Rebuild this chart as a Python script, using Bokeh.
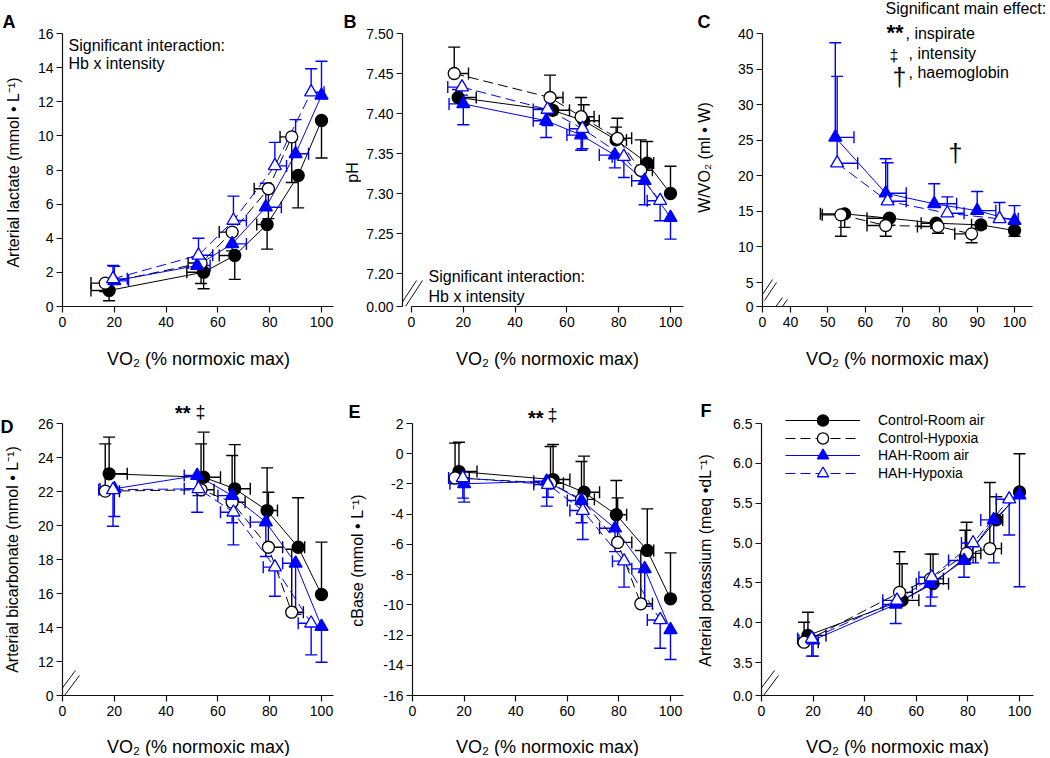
import math
from bokeh.plotting import figure
from bokeh.models import (ColumnDataSource, Whisker, TeeHead, Label, Arrow, FixedTicker,
                          CustomJSTickFormatter, Legend, LegendItem, Range1d)
from bokeh.layouts import row, column
from bokeh.embed import file_html
from bokeh.resources import INLINE

FONT = "Liberation Sans"
INK = "#000000"
BLUE = "#0000ff"
AXC = "#111111"

# ---------------- data ----------------
series_names = ["Control-Room air", "Control-Hypoxia", "HAH-Room air", "HAH-Hypoxia"]

# VO2 (% normoxic max) per group and its SD (same for every panel)
vo2_cr = [18, 54.5, 66.5, 79, 91, 100]
vo2_ch = [16.5, 53.5, 65.5, 79.5, 88.5]
vo2_hr = [20, 52, 65.5, 78.5, 90, 100]
vo2_hh = [19.5, 52.5, 66, 82, 96]
vo2sd_cr = [7, 6.5, 6, 4, 2.5, 0]
vo2sd_ch = [5.5, 5, 5, 5.5, 4.5]
vo2sd_hr = [5.5, 5, 5.5, 6, 5, 0]
vo2sd_hh = [5.5, 5.5, 5, 4.5, 5]

# A: arterial lactate
lac_cr = [0.94, 2.01, 2.99, 4.81, 7.68, 10.9]
lac_cr_sd = [0.6, 0.97, 1.4, 1.45, 1.9, 2.2]
lac_ch = [1.37, 2.55, 4.36, 6.9, 9.94]
lac_ch_sd = [0.5, 1.2, 1.1, 1.75, 2.67]
lac_hr = [1.5, 2.4, 3.67, 5.82, 8.95, 12.37]
lac_hr_sd = [0.85, 0.5, 0.7, 1.4, 2.0, 2.0]
lac_hh = [1.62, 3.0, 5.04, 8.24, 12.56]
lac_hh_sd = [0.78, 1.0, 1.43, 1.38, 1.37]

# B: pH
ph_cr = [7.42, 7.404, 7.391, 7.367, 7.338, 7.30]
ph_cr_sd = [0.01, 0.015, 0.02, 0.016, 0.027, 0.034]
ph_ch = [7.45, 7.42, 7.396, 7.369, 7.329]
ph_ch_sd = [0.033, 0.028, 0.024, 0.025, 0.038]
ph_hr = [7.412, 7.391, 7.373, 7.348, 7.316, 7.27]
ph_hr_sd = [0.026, 0.021, 0.019, 0.016, 0.03, 0.027]
ph_hh = [7.433, 7.405, 7.381, 7.346, 7.291]
ph_hh_sd = [0.01, 0.02, 0.025, 0.026, 0.025]

# C: W/VO2 (no rest point)
wv_cr = [14.65, 14.04, 13.33, 13.1, 12.3]
wv_cr_sd = [1.9, 1.0, 0.7, 0.5, 0.8]
wv_ch = [14.51, 13.01, 12.87, 11.84]
wv_ch_sd = [3.0, 1.5, 0.94, 1.26]
wv_hr = [25.4, 17.55, 16.06, 15.1, 13.7]
wv_hr_sd = [13.3, 4.85, 2.81, 2.7, 2.1]
wv_hh = [21.77, 16.43, 14.74, 13.95]
wv_hh_sd = [12.2, 5.4, 2.3, 2.3]

# D: arterial bicarbonate
bic_cr = [23.04, 22.84, 22.16, 20.88, 18.72, 15.94]
bic_cr_sd = [2.16, 2.65, 2.6, 2.51, 2.91, 3.08]
bic_ch = [22.02, 22.1, 21.37, 18.72, 14.9]
bic_ch_sd = [2.78, 2.7, 2.75, 3.24, 3.7]
bic_hr = [22.16, 22.94, 21.76, 20.2, 17.78, 14.06]
bic_hr_sd = [1.63, 2.16, 1.6, 2.02, 3.0, 2.1]
bic_hh = [22.1, 22.16, 20.78, 17.55, 14.25]
bic_hh_sd = [2.14, 0.4, 1.92, 1.71, 1.86]

# E: cBase
cb_cr = [-1.18, -1.71, -2.55, -4.04, -6.4, -9.6]
cb_cr_sd = [1.94, 2.32, 2.39, 2.27, 2.75, 3.04]
cb_ch = [-1.6, -1.95, -3.02, -5.87, -9.93]
cb_ch_sd = [2.3, 2.43, 2.51, 2.95, 3.53]
cb_hr = [-1.99, -1.82, -3.1, -4.93, -7.62, -11.66]
cb_hr_sd = [1.21, 1.65, 1.47, 1.55, 2.47, 1.96]
cb_hh = [-1.6, -2.04, -3.76, -7.11, -11.0]
cb_hh_sd = [1.34, 0.84, 1.92, 1.72, 1.87]

# F: arterial potassium
k_cr = [3.84, 4.28, 4.49, 4.82, 5.29, 5.64]
k_cr_sd = [0.29, 0.46, 0.37, 0.34, 0.29, 0.48]
k_ch = [3.755, 4.38, 4.55, 4.87, 4.93]
k_ch_sd = [0.25, 0.51, 0.31, 0.39, 0.83]
k_hr = [3.78, 4.23, 4.49, 4.78, 5.29, 5.6]
k_hr_sd = [0.2, 0.24, 0.28, 0.21, 0.54, 1.15]
k_hh = [3.8, 4.28, 4.57, 5.0, 5.55]
k_hh_sd = [0.22, 0.05, 0.25, 0.25, 0.45]

x_ticks = [0, 20, 40, 60, 80, 100]
x_label = "VO\u2082 (% normoxic max)"
y_labels = {
    "A": "Arterial lactate (mmol \u2022 L\u207b\u00b9)",
    "B": "pH",
    "C": "W/VO\u2082 (ml \u2022 W)",
    "D": "Arterial bicarbonate (mmol \u2022 L\u207b\u00b9)",
    "E": "cBase (mmol \u2022 L\u207b\u00b9)",
    "F": "Arterial potassium (meq \u2022dL\u207b\u00b9)",
}

# ---------------- layout (page pixels, page origin at the top-left corner) ----------------
BOX = {  # figure boxes: x0, x1, y0, y1
    "A": (26, 361, 0, 340), "B": (361, 722, 0, 340), "C": (722, 1048, 0, 340),
    "D": (26, 372, 340, 722), "E": (372, 722, 340, 722), "F": (722, 1048, 340, 722),
    "LEFT": (0, 26, 0, 756), "BOTTOM": (26, 1048, 722, 756),
}


def lin(cal, px):
    (v1, p1), (v2, p2) = cal
    return v1 + (px - p1) * (v2 - v1) / (p2 - p1)


STYLE = {
    "cr": dict(color=INK, marker="circle", fill=INK, dash="solid", size=12),
    "ch": dict(color=INK, marker="circle", fill="white", dash="10 5", size=12),
    "hr": dict(color=BLUE, marker="triangle", fill=BLUE, dash="solid", size=13),
    "hh": dict(color=BLUE, marker="triangle", fill="white", dash="10 5", size=13),
}
BLACK_DOWN = {"cr": (-1, -1), "ch": (-1, -1), "hr": (1, 1), "hh": (1, 1)}
BLACK_UP = {"cr": (1, 1), "ch": (1, 1), "hr": (-1, -1), "hh": (-1, -1)}

SPEC = {
    "A": dict(L=62, B=306, xs_px=62, xe_px=333,
              xcal=((0, 62), (100, 321)), ycal=((0, 306), (16, 33)), ytop=16,
              xticks=x_ticks, xbrk=None, yticks=list(range(0, 17, 2)), ybrk=None, ydec=0,
              dirs=BLACK_DOWN,
              data={"cr": (vo2_cr, vo2sd_cr, lac_cr, lac_cr_sd), "ch": (vo2_ch, vo2sd_ch, lac_ch, lac_ch_sd),
                    "hr": (vo2_hr, vo2sd_hr, lac_hr, lac_hr_sd), "hh": (vo2_hh, vo2sd_hh, lac_hh, lac_hh_sd)},
              breaks=[]),
    "B": dict(L=402, B=306, xs_px=411, xe_px=683,
              xcal=((0, 411), (100, 670)), ycal=((7.20, 273), (7.50, 33)), ytop=7.5,
              xticks=x_ticks, xbrk=None, yticks="brk", ybrk="0.00", ydec=2,
              yreg=[7.20, 7.25, 7.30, 7.35, 7.40, 7.45, 7.50],
              dirs=BLACK_UP,
              data={"cr": (vo2_cr, vo2sd_cr, ph_cr, ph_cr_sd), "ch": (vo2_ch, vo2sd_ch, ph_ch, ph_ch_sd),
                    "hr": (vo2_hr, vo2sd_hr, ph_hr, ph_hr_sd), "hh": (vo2_hh, vo2sd_hh, ph_hh, ph_hh_sd)},
              breaks=[(399, 306, 416, 280), (405, 306, 422, 280)]),
    "C": dict(L=762, B=306, xs_px=762, xe_px=1032,
              xcal=((40, 790), (100, 1014)), ycal=((5, 282), (40, 33)), ytop=40,
              xticks="brk", xbrk="0", xreg=[40, 50, 60, 70, 80, 90, 100],
              yticks="brk", ybrk="0", ydec=0, yreg=[5, 10, 15, 20, 25, 30, 35, 40],
              dirs=BLACK_DOWN,
              data={"cr": (vo2_cr[1:], vo2sd_cr[1:], wv_cr, wv_cr_sd),
                    "ch": (vo2_ch[1:], vo2sd_ch[1:], wv_ch, wv_ch_sd),
                    "hr": (vo2_hr[1:], vo2sd_hr[1:], wv_hr, wv_hr_sd),
                    "hh": (vo2_hh[1:], vo2sd_hh[1:], wv_hh, wv_hh_sd)},
              breaks=[(760, 297, 772, 279), (764, 300, 776, 282),
                      (768, 316, 782, 297), (773, 318, 787, 299)]),
    "D": dict(L=62, B=695, xs_px=62, xe_px=333,
              xcal=((0, 62), (100, 321)), ycal=((12, 661), (26, 423)), ytop=26,
              xticks=x_ticks, xbrk=None, yticks="brk", ybrk="0", ydec=0,
              yreg=[12, 14, 16, 18, 20, 22, 24, 26],
              dirs=BLACK_UP,
              data={"cr": (vo2_cr, vo2sd_cr, bic_cr, bic_cr_sd), "ch": (vo2_ch, vo2sd_ch, bic_ch, bic_ch_sd),
                    "hr": (vo2_hr, vo2sd_hr, bic_hr, bic_hr_sd), "hh": (vo2_hh, vo2sd_hh, bic_hh, bic_hh_sd)},
              breaks=[(60, 690, 75, 670), (64, 695, 79, 675)]),
    "E": dict(L=412, B=695, xs_px=412, xe_px=683,
              xcal=((0, 412), (100, 670)), ycal=((-16, 695), (2, 423)), ytop=2,
              xticks=x_ticks, xbrk=None, yticks=list(range(-16, 3, 2)), ybrk=None, ydec=0,
              dirs=BLACK_UP,
              data={"cr": (vo2_cr, vo2sd_cr, cb_cr, cb_cr_sd), "ch": (vo2_ch, vo2sd_ch, cb_ch, cb_ch_sd),
                    "hr": (vo2_hr, vo2sd_hr, cb_hr, cb_hr_sd), "hh": (vo2_hh, vo2sd_hh, cb_hh, cb_hh_sd)},
              breaks=[]),
    "F": dict(L=761, B=695, xs_px=761, xe_px=1033,
              xcal=((0, 761), (100, 1019)), ycal=((3.5, 662), (6.5, 423)), ytop=6.5,
              xticks=x_ticks, xbrk=None, yticks="brk", ybrk="0.0", ydec=1,
              yreg=[3.5, 4.0, 4.5, 5.0, 5.5, 6.0, 6.5],
              dirs=BLACK_UP,
              data={"cr": (vo2_cr, vo2sd_cr, k_cr, k_cr_sd), "ch": (vo2_ch, vo2sd_ch, k_ch, k_ch_sd),
                    "hr": (vo2_hr, vo2sd_hr, k_hr, k_hr_sd), "hh": (vo2_hh, vo2sd_hh, k_hh, k_hh_sd)},
              breaks=[(759, 690, 774, 670), (763, 695, 778, 675)]),
}

# texts: host figure, text, page x, page y, font px, style, align, rotated
TEXTS = [
    ("LEFT", "A", 2, 21.5, 18, "bold", "left", False),
    ("A", "B", 343, 21.5, 18, "bold", "left", False),
    ("B", "C", 697, 21.5, 18, "bold", "left", False),
    ("LEFT", "D", 0, 426.5, 18, "bold", "left", False),
    ("D", "E", 348, 411.5, 18, "bold", "left", False),
    ("E", "F", 700, 410, 18, "bold", "left", False),
    ("LEFT", y_labels["A"], 13, 172, 16, "normal", "center", True),
    ("A", y_labels["B"], 352, 172, 16, "normal", "center", True),
    ("B", y_labels["C"], 704, 157, 16, "normal", "center", True),
    ("LEFT", y_labels["D"], 12, 559, 16, "normal", "center", True),
    ("D", y_labels["E"], 357, 560, 16, "normal", "center", True),
    ("E", y_labels["F"], 705, 560, 16, "normal", "center", True),
    ("D", x_label, 198, 358, 18, "normal", "center", False),
    ("E", x_label, 547, 358, 18, "normal", "center", False),
    ("F", x_label, 897, 358, 18, "normal", "center", False),
    ("BOTTOM", x_label, 198, 746, 18, "normal", "center", False),
    ("BOTTOM", x_label, 547, 746, 18, "normal", "center", False),
    ("BOTTOM", x_label, 897, 746, 18, "normal", "center", False),
    ("A", "Significant interaction:", 68, 45, 16, "normal", "left", False),
    ("A", "Hb x intensity", 68, 63, 16, "normal", "left", False),
    ("B", "Significant interaction:", 428, 276, 16, "normal", "left", False),
    ("B", "Hb x intensity", 428, 296, 16, "normal", "left", False),
    ("C", "Significant main effect:", 885, 8, 16, "normal", "left", False),
    ("C", "**", 886, 32, 22, "bold", "left", False),
    ("C", ", inspirate", 905, 33, 16, "normal", "left", False),
    ("C", "\u2021", 889, 55, 16, "normal", "left", False),
    ("C", ", intensity", 908, 53, 16, "normal", "left", False),
    ("C", "\u2020", 892, 76, 25, "normal", "left", False),
    ("C", ", haemoglobin", 908, 72, 16, "normal", "left", False),
    ("C", "\u2020", 955, 152, 25, "normal", "center", False),
    ("D", "**", 190, 412, 20, "bold", "right", False),
    ("D", "\u2021", 195, 411, 18, "normal", "left", False),
    ("E", "**", 543, 417, 20, "bold", "right", False),
    ("E", "\u2021", 547, 414, 18, "normal", "left", False),
]

FMT = "return (brk && index == 0) ? lab : tick.toFixed(d);"


def add_errors(p, xs, xsd, ys, ysd, xdir, ydir, color):
    def head():
        return TeeHead(size=12, line_color=color, line_width=1.4)
    vb, vl, vu = [], [], []
    for x, y, e in zip(xs, ys, ysd):
        if e > 0:
            vb.append(x)
            vl.append(y if ydir > 0 else y - e)
            vu.append(y + e if ydir > 0 else y)
    p.add_layout(Whisker(source=ColumnDataSource(dict(base=vb, lower=vl, upper=vu)),
                         base="base", lower="lower", upper="upper", dimension="height",
                         line_color=color, line_width=1.4, level="underlay",
                         upper_head=head() if ydir > 0 else None,
                         lower_head=None if ydir > 0 else head()))
    hb, hl, hu = [], [], []
    for x, y, e in zip(xs, ys, xsd):
        if e > 0:
            hb.append(y)
            hl.append(x if xdir > 0 else x - e)
            hu.append(x + e if xdir > 0 else x)
    p.add_layout(Whisker(source=ColumnDataSource(dict(base=hb, lower=hl, upper=hu)),
                         base="base", lower="lower", upper="upper", dimension="width",
                         line_color=color, line_width=1.4, level="underlay",
                         upper_head=head() if xdir > 0 else None,
                         lower_head=None if xdir > 0 else head()))


CONV = {}


def style_plain(p):
    p.outline_line_color = None
    p.background_fill_color = "white"
    p.border_fill_color = "white"
    p.xgrid.visible = False
    p.ygrid.visible = False


def build_strip(key):
    x0, x1, y0, y1 = BOX[key]
    p = figure(width=x1 - x0, height=y1 - y0, x_range=Range1d(x0, x1), y_range=Range1d(y1, y0),
               x_axis_location=None, y_axis_location=None, min_border=0,
               output_backend="svg", toolbar_location=None)
    style_plain(p)
    CONV[key] = (lambda v: v, lambda v: v)
    return p


def build(key):
    s = SPEC[key]
    bx0, bx1, by0, by1 = BOX[key]
    L, B = s["L"], s["B"]
    x0, x1 = lin(s["xcal"], L), lin(s["xcal"], bx1)
    y0, y1 = lin(s["ycal"], B), lin(s["ycal"], by0)
    p = figure(width=bx1 - bx0, height=by1 - by0,
               x_range=Range1d(x0, x1), y_range=Range1d(y0, y1),
               output_backend="svg", toolbar_location=None,
               min_border_left=L - bx0, min_border_right=0,
               min_border_top=0, min_border_bottom=by1 - B)
    style_plain(p)
    CONV[key] = (lambda px, c=s["xcal"]: lin(c, px), lambda py, c=s["ycal"]: lin(c, py))

    xt = [x0] + s["xreg"] if s["xticks"] == "brk" else s["xticks"]
    yt = [y0] + s["yreg"] if s["yticks"] == "brk" else s["yticks"]
    xa, ya = p.xaxis[0], p.yaxis[0]
    xa.ticker = FixedTicker(ticks=xt)
    ya.ticker = FixedTicker(ticks=yt)
    xa.formatter = CustomJSTickFormatter(args=dict(brk=s["xbrk"] is not None, lab=s["xbrk"] or "", d=0), code=FMT)
    ya.formatter = CustomJSTickFormatter(args=dict(brk=s["ybrk"] is not None, lab=s["ybrk"] or "", d=s["ydec"]), code=FMT)
    xa.bounds = (lin(s["xcal"], s["xs_px"]), lin(s["xcal"], s["xe_px"]))
    ya.bounds = (y0, s["ytop"])
    for ax in (xa, ya):
        ax.axis_line_color = AXC
        ax.axis_line_width = 1.2
        ax.major_tick_line_color = AXC
        ax.major_tick_line_width = 1.2
        ax.major_tick_out = 6
        ax.major_tick_in = 0
        ax.minor_tick_line_color = None
        ax.major_label_text_font = FONT
        ax.major_label_text_font_size = "14px"
        ax.major_label_text_color = INK
    xa.major_label_standoff = 4
    ya.major_label_standoff = 3

    rends = {}
    for k in ["cr", "ch", "hr", "hh"]:
        xs, xsd, ys, ysd = s["data"][k]
        xdir, ydir = s["dirs"][k]
        add_errors(p, xs, xsd, ys, ysd, xdir, ydir, STYLE[k]["color"])
    for k in ["cr", "ch", "hr", "hh"]:
        xs, xsd, ys, ysd = s["data"][k]
        st = STYLE[k]
        rends[k] = [p.line(xs, ys, line_color=st["color"], line_width=1, line_dash=st["dash"])]
    for k in ["cr", "ch", "hr", "hh"]:
        xs, xsd, ys, ysd = s["data"][k]
        st = STYLE[k]
        rends[k].append(p.scatter(xs, ys, marker=st["marker"], size=st["size"], fill_color=st["fill"],
                                  line_color=st["color"], line_width=1.3))
    cx, cy = CONV[key]
    for (ax0, ay0, ax1, ay1) in s["breaks"]:
        p.add_layout(Arrow(end=None, x_start=cx(ax0), y_start=cy(ay0), x_end=cx(ax1), y_end=cy(ay1),
                           line_color=AXC, line_width=1))
    return p, rends


figs = {k: build(k) for k in "ABCDEF"}
left = build_strip("LEFT")
bottom = build_strip("BOTTOM")
hosts = {k: figs[k][0] for k in "ABCDEF"}
hosts["LEFT"] = left
hosts["BOTTOM"] = bottom

for (host, t, sx, sy, size, style, align, rot) in TEXTS:
    cx, cy = CONV[host]
    hosts[host].add_layout(Label(x=cx(sx), y=cy(sy), text=t, text_font=FONT,
                                 text_font_size=f"{size}px", text_font_style=style,
                                 text_align=align, text_baseline="middle", text_color=INK,
                                 angle=math.pi / 2 if rot else 0))

# legend in panel F: two interleaved legends so the markers keep a readable size
pF, rF = figs["F"]
leg_common = dict(glyph_width=75, glyph_height=28, spacing=7, padding=0, margin=0, label_standoff=18,
                  label_text_font=FONT, label_text_font_size="14px", label_text_color=INK,
                  border_line_color=None, background_fill_alpha=0)
leg1 = Legend(items=[LegendItem(label=series_names[0], renderers=rF["cr"]),
                     LegendItem(label=series_names[2], renderers=rF["hr"])],
              location=(24, 226), **leg_common)
leg2 = Legend(items=[LegendItem(label=series_names[1], renderers=rF["ch"]),
                     LegendItem(label=series_names[3], renderers=rF["hh"])],
              location=(24, 208), **leg_common)
pF.add_layout(leg1)
pF.add_layout(leg2)

layout = row(left, column(row(hosts["A"], hosts["B"], hosts["C"]),
                          row(hosts["D"], hosts["E"], hosts["F"]),
                          bottom))

open("out.html", "w").write(file_html(layout, INLINE))
